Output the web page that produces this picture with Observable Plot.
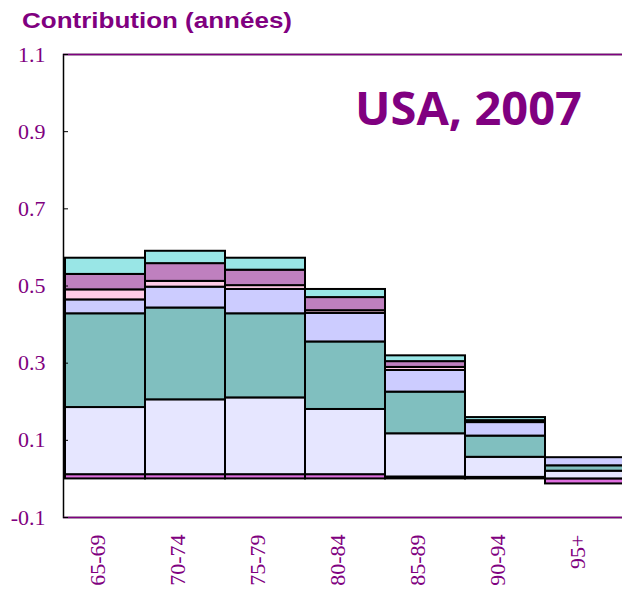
<!DOCTYPE html>
<html>
<head>
<meta charset="utf-8">
<script src="https://cdn.jsdelivr.net/npm/d3@7"></script>
<script src="https://cdn.jsdelivr.net/npm/@observablehq/plot@0.6"></script>
<style>
  html, body { margin: 0; padding: 0; background: white; overflow: hidden; }
  #chart { width: 622px; height: 592px; overflow: hidden; }
</style>
</head>
<body>
<div id="chart"></div>
<script>
// Age groups (categories)
const ageGroups = ["65-69", "70-74", "75-79", "80-84", "85-89", "90-94", "95+"];

// Series (stacked from bottom to top)
const seriesNames = ["s1", "s2", "s3", "s4", "s5", "s6", "s7"];
const seriesColors = ["#E070E0", "#E6E6FF", "#80BFBF", "#CCCCFF", "#FFCCE6", "#BF80BF", "#99E6E6"];

const s1 = [0.011, 0.011, 0.011, 0.011, 0.005, 0.004, -0.013];
const s2 = [0.174, 0.194, 0.199, 0.169, 0.112, 0.052, 0.020];
const s3 = [0.243, 0.238, 0.218, 0.175, 0.108, 0.055, 0.014];
const s4 = [0.036, 0.054, 0.063, 0.074, 0.056, 0.035, 0.021];
const s5 = [0.026, 0.015, 0.010, 0.007, 0.008, 0.002, 0];
const s6 = [0.040, 0.046, 0.040, 0.034, 0.015, 0.003, 0];
const s7 = [0.042, 0.032, 0.031, 0.021, 0.015, 0.008, 0];

// Y axis tick labels
const yTicks = [-0.1, 0.1, 0.3, 0.5, 0.7, 0.9, 1.1];
const yFrame = [-0.1, 1.1];

const title = "Contribution (années)";
const subtitle = "USA, 2007";

const allSeries = [s1, s2, s3, s4, s5, s6, s7];
const rows = [];
allSeries.forEach((vals, si) => {
  vals.forEach((v, i) => {
    rows.push({age: ageGroups[i], series: seriesNames[si], value: v});
  });
});

const purple = "#800080";

const svg = Plot.plot({
  width: 626,
  height: 592,
  marginTop: 54,
  marginBottom: 75,
  marginLeft: 63,
  marginRight: 0,
  style: {fontFamily: "'Liberation Serif', 'Times New Roman', serif", fontSize: "22px", background: "white", color: purple, maxWidth: "none"},
  x: {domain: ageGroups, padding: 0, label: null},
  y: {domain: yFrame, label: null},
  color: {domain: seriesNames, range: seriesColors},
  marks: [
    Plot.barY(rows, {x: "age", y: "value", fill: "series", stroke: "black", strokeWidth: 2, filter: d => d.value !== 0}),
    Plot.frame({stroke: "black", strokeWidth: 1.5}),
    Plot.ruleY(yFrame, {stroke: purple, strokeWidth: 1.5}),
    Plot.axisY({ticks: yTicks, tickFormat: d => d.toFixed(1), tickSize: -5, tickPadding: 23, stroke: "black", fill: purple, fontSize: 22}),
    Plot.axisX({tickRotate: -90, tickSize: 0, tickPadding: 17, dx: -8, fill: purple, fontSize: 22})
  ]
});

const s = d3.select(svg);
s.append("text")
  .attr("x", 22).attr("y", 28)
  .attr("text-anchor", "start")
  .attr("fill", purple)
  .attr("font-family", "'Liberation Sans', Arial, sans-serif")
  .attr("font-weight", "bold")
  .attr("font-size", 22.5)
  .attr("textLength", 270)
  .attr("lengthAdjust", "spacingAndGlyphs")
  .text(title);
s.append("text")
  .attr("x", 355).attr("y", 125)
  .attr("text-anchor", "start")
  .attr("fill", purple)
  .attr("font-family", "'Open Sans', Lato, sans-serif")
  .attr("font-weight", "bold")
  .attr("font-size", 47)
  .text(subtitle);

document.getElementById("chart").appendChild(svg);
</script>
</body>
</html>
